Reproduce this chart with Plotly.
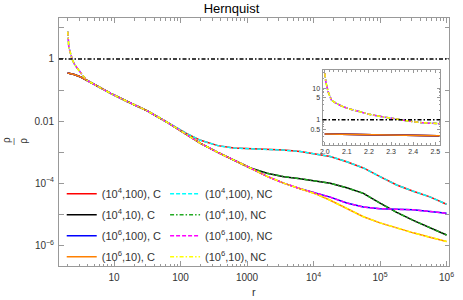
import plotly.graph_objects as go

# ---------------- data ----------------
r_grid = [2.0, 2.24, 2.51, 3.16, 3.98, 5.62, 8.91, 15.8, 31.6, 63.1, 100, 126, 200, 363,
          631, 1120, 2000, 3550, 6310, 11200, 17800, 31600, 56200, 1e5, 1.78e5, 3.16e5,
          5.62e5, 1e6]

c_1e4_100 = [0.355, 0.339, 0.316, 0.263, 0.200, 0.132, 0.0776, 0.0427, 0.0214, 0.00912,
             0.00525, 0.00389, 0.00240, 0.00162, 0.00135, 0.00129, 0.00122, 0.00116,
             0.00105, 0.000851, 0.000724, 0.000490, 0.000309, 0.000162, 8.71e-5, 5.50e-5,
             3.63e-5, 2.09e-5]
c_1e4_10 = [0.355, 0.339, 0.316, 0.263, 0.200, 0.132, 0.0776, 0.0427, 0.0214, 0.00912,
            0.00490, 0.00347, 0.00191, 0.000977, 0.000562, 0.000309, 2.09e-4, 1.62e-4,
            1.38e-4, 1.17e-4, 1.0e-4, 7.08e-5, 4.68e-5, 2.29e-5, 1.15e-5, 6.31e-6,
            3.72e-6, 2.14e-6]
c_1e6_100 = [0.355, 0.339, 0.316, 0.263, 0.200, 0.132, 0.0776, 0.0427, 0.0214, 0.00912,
             0.00490, 0.00347, 0.00191, 0.000977, 0.000562, 0.000309, 1.66e-4, 1.0e-4,
             6.61e-5, 4.68e-5, 3.55e-5, 2.29e-5, 1.70e-5, 1.51e-5, 1.45e-5, 1.38e-5,
             1.23e-5, 1.07e-5]
c_1e6_10 = [0.355, 0.339, 0.316, 0.263, 0.200, 0.132, 0.0776, 0.0427, 0.0214, 0.00912,
            0.00490, 0.00347, 0.00191, 0.000977, 0.000562, 0.000309, 1.66e-4, 1.0e-4,
            6.61e-5, 4.37e-5, 2.82e-5, 1.51e-5, 8.32e-6, 5.25e-6, 3.55e-6, 2.51e-6,
            1.82e-6, 1.32e-6]

# non-conformal (NC) curves: steep inner part near r = 2, then identical to C curves
nc_inner_r = [2.0, 2.0045, 2.015, 2.03, 2.052, 2.082, 2.112, 2.157, 2.2, 2.26, 2.32,
              2.38, 2.44, 2.51, 2.8, 3.1, 3.5]
nc_inner_v = [29, 16, 7.6, 4.2, 3.3, 2.6, 2.2, 1.8, 1.5, 1.25, 1.05, 0.91, 0.81, 0.71,
              0.50, 0.37, 0.27]
nc_main_start = 2.015   # first r sampled for NC curves in the main panel

ref_level = 1.0

labels_c = ["(10<sup>4</sup>,100), C", "(10<sup>4</sup>,10), C",
            "(10<sup>6</sup>,100), C", "(10<sup>6</sup>,10), C"]
labels_nc = ["(10<sup>4</sup>,100), NC", "(10<sup>4</sup>,10), NC",
             "(10<sup>6</sup>,100), NC", "(10<sup>6</sup>,10), NC"]

x_tick_vals = [10, 100, 1000, 1e4, 1e5, 1e6]
x_tick_text = ["10", "100", "1000", "10<sup>4</sup>", "10<sup>5</sup>", "10<sup>6</sup>"]
y_tick_vals = [1e-6, 1e-5, 1e-4, 1e-3, 1e-2, 1e-1, 1, 10]
y_tick_text = ["10<sup>−6</sup>", "", "10<sup>−4</sup>", "", "0.01", "", "1", ""]

inset_x_ticks = [2.0, 2.1, 2.2, 2.3, 2.4, 2.5]
inset_x_text = ["2.0", "2.1", "2.2", "2.3", "2.4", "2.5"]
inset_y_ticks = [0.5, 1, 5, 10]
inset_y_text = ["0.5", "1", "5", "10"]

# ---------------- styles ----------------
c_series = [c_1e4_100, c_1e4_10, c_1e6_100, c_1e6_10]
c_colors = ["#ff0000", "#000000", "#0000ff", "#ff8000"]
nc_colors = ["#00ffff", "#22aa22", "#ff00ff", "#ffff00"]
nc_dash = ["4px,2px", "4px,2px,1.5px,2px", "4px,2px", "4px,2px,1.5px,2px"]
LW = 1.5
AXC = "#999999"
TXC = "#333333"
FONT = "Liberation Sans, Arial, sans-serif"

fig = go.Figure()

def nc_curve(cvals):
    xs = list(nc_inner_r)
    ys = list(nc_inner_v)
    for rr, vv in zip(r_grid, cvals):
        if rr > nc_inner_r[-1]:
            xs.append(rr)
            ys.append(vv)
    return xs, ys

# main panel: C curves
for vals, col, lab in zip(c_series, c_colors, labels_c):
    fig.add_trace(go.Scatter(x=r_grid, y=vals, mode="lines", name=lab,
                             line=dict(color=col, width=LW), legend="legend",
                             legendgroup=lab))
# main panel: NC curves
for vals, col, dsh, lab in zip(c_series, nc_colors, nc_dash, labels_nc):
    xs, ys = nc_curve(vals)
    pairs = [(a, b) for a, b in zip(xs, ys) if a >= nc_main_start]
    fig.add_trace(go.Scatter(x=[p[0] for p in pairs], y=[p[1] for p in pairs],
                             mode="lines", name=lab,
                             line=dict(color=col, width=LW, dash=dsh),
                             legend="legend2", legendgroup=lab))

# inset
for vals, col in zip(c_series, c_colors):
    fig.add_trace(go.Scatter(x=r_grid, y=vals, mode="lines", showlegend=False,
                             line=dict(color=col, width=LW), xaxis="x2", yaxis="y2"))
for vals, col, dsh in zip(c_series, nc_colors, nc_dash):
    xs, ys = nc_curve(vals)
    fig.add_trace(go.Scatter(x=xs, y=ys, mode="lines", showlegend=False,
                             line=dict(color=col, width=LW, dash=dsh),
                             xaxis="x2", yaxis="y2"))

# reference level lines
fig.add_shape(type="line", xref="x domain", yref="y", x0=0, x1=1,
              y0=ref_level, y1=ref_level,
              line=dict(color="black", width=1.5, dash="4px,2px,1.5px,2px"))
fig.add_shape(type="line", xref="x2 domain", yref="y2", x0=0, x1=1,
              y0=ref_level, y1=ref_level,
              line=dict(color="black", width=1.5, dash="4px,2px,1.5px,2px"))

# minor tick positions
x_minor = []
for k in range(0, 6):
    for m in range(2, 10):
        x_minor.append(m * 10 ** k)
inset_y_minor = [0.2, 0.3, 0.4, 0.6, 0.7, 0.8, 0.9, 2, 3, 4, 6, 7, 8, 9, 20, 30]

axis_common = dict(showline=True, linecolor=AXC, linewidth=1, mirror="ticks",
                   ticks="inside", tickcolor=AXC, showgrid=False, zeroline=False)

# axis labels: rotated fraction (rho / rho) on the y axis, "r" on the x axis
ylab_font = dict(size=10, color=TXC, family=FONT)
labels = [
    dict(text="ρ", textangle=-90, xref="paper", yref="paper", x=-0.1363, y=0.507,
         showarrow=False, xanchor="center", yanchor="middle", font=ylab_font),
    dict(text="|", xref="paper", yref="paper", x=-0.1165, y=0.507,
         showarrow=False, xanchor="center", yanchor="middle",
         font=dict(size=8, color=TXC, family=FONT)),
    dict(text="ρ", textangle=-90, xref="paper", yref="paper", x=-0.0912, y=0.507,
         showarrow=False, xanchor="center", yanchor="middle", font=ylab_font),
    dict(text="r", xref="paper", yref="paper", x=0.5, y=-0.105,
         showarrow=False, xanchor="center", yanchor="middle",
         font=dict(size=11, color=TXC, family=FONT)),
]

fig.update_layout(
    width=463, height=300,
    margin=dict(l=59, r=9, t=18, b=34),
    paper_bgcolor="white", plot_bgcolor="white",
    font=dict(family=FONT, color=TXC, size=10),
    title=dict(text="Hernquist", x=0.5, xanchor="center", y=1 - 8.5 / 300,
               yanchor="middle", font=dict(size=13, color="black", family=FONT)),
    xaxis=dict(type="log", range=[0.172, 6.037], domain=[0, 1],
               tickmode="array", tickvals=x_tick_vals, ticktext=x_tick_text,
               ticklen=5, tickfont=dict(size=10, color=TXC), ticklabelstandoff=2,
               minor=dict(tickmode="array", tickvals=x_minor, ticks="inside",
                          ticklen=2.5, tickcolor=AXC, showgrid=False),
               **axis_common),
    yaxis=dict(type="log", range=[-6.668, 1.32], domain=[0, 1],
               tickmode="array", tickvals=y_tick_vals, ticktext=y_tick_text,
               ticklen=4.5, tickfont=dict(size=10, color=TXC), ticklabelstandoff=2,
               **axis_common),
    xaxis2=dict(anchor="y2", domain=[0.6757, 0.9772], range=[1.9897, 2.522],
                tickmode="array", tickvals=inset_x_ticks, ticktext=inset_x_text,
                ticklen=3, tickfont=dict(size=7, color=TXC),
                minor=dict(dtick=0.02, tick0=2.0, ticks="inside", ticklen=1.5,
                           tickcolor=AXC, showgrid=False),
                **axis_common),
    yaxis2=dict(anchor="x2", type="log", domain=[0.4885, 0.7885], range=[-0.789, 1.555],
                tickmode="array", tickvals=inset_y_ticks, ticktext=inset_y_text,
                ticklen=3, tickfont=dict(size=7, color=TXC),
                minor=dict(tickmode="array", tickvals=inset_y_minor, ticks="inside",
                           ticklen=1.5, tickcolor=AXC, showgrid=False),
                **axis_common),
    legend=dict(x=0.007, y=0.35, xanchor="left", yanchor="top",
                bgcolor="rgba(0,0,0,0)", font=dict(size=11, color=TXC, family=FONT),
                tracegroupgap=2, itemwidth=30),
    legend2=dict(x=0.272, y=0.35, xanchor="left", yanchor="top",
                 bgcolor="rgba(0,0,0,0)", font=dict(size=11, color=TXC, family=FONT),
                 tracegroupgap=2, itemwidth=30),
    annotations=labels,
)

fig.write_html("out.html", post_script="document.body.style.margin='0';",
               config={"displayModeBar": False})
